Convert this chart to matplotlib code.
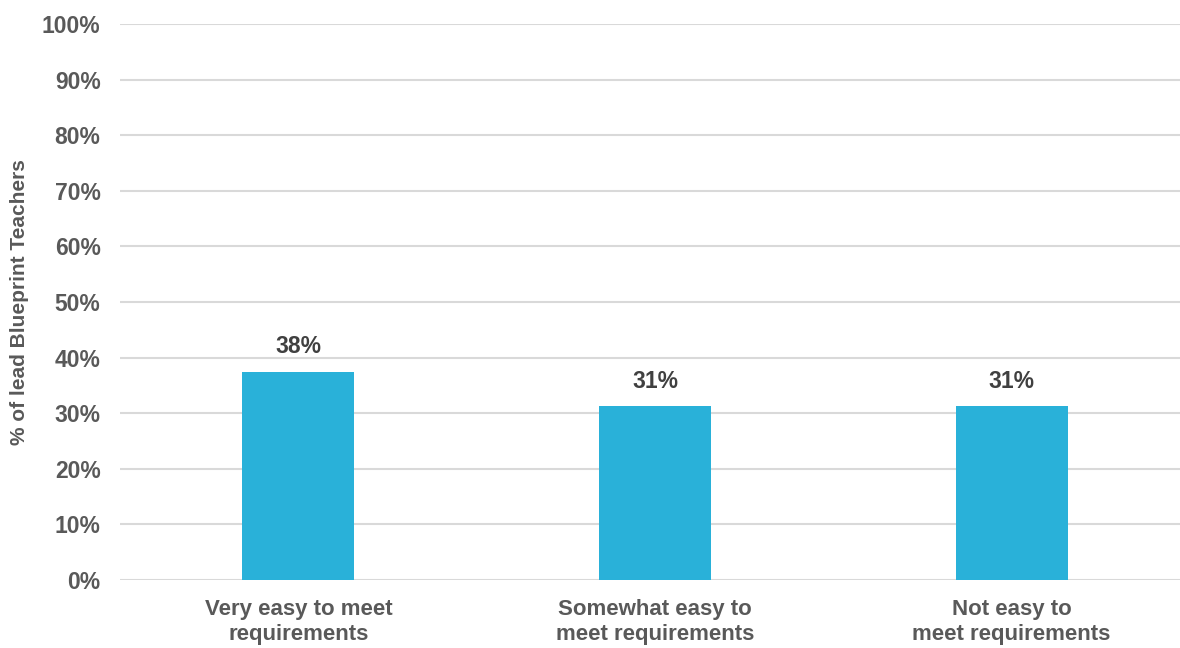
import matplotlib.pyplot as plt
from matplotlib.ticker import PercentFormatter

categories = ['Very easy to meet\nrequirements', 'Somewhat easy to\nmeet requirements', 'Not easy to\nmeet requirements']
values = [37.5, 31.25, 31.25]
labels = ['38%', '31%', '31%']

plt.rcParams['font.family'] = ['Liberation Sans', 'DejaVu Sans']
plt.rcParams['font.weight'] = 'bold'

fig = plt.figure(figsize=(11.8, 6.48), dpi=100)
ax = fig.add_axes([120 / 1180, 68 / 648, 1070 / 1180, 556 / 648])

x = range(len(categories))
ax.bar(x, values, width=0.314, color='#29B1D9', zorder=3)
for xi, v, lab in zip(x, values, labels):
    ax.text(xi, v + 2.4, lab, ha='center', va='bottom', fontsize=16.5,
            fontweight='bold', color='#404040')

ax.set_xlim(-0.5, 2.5)
ax.set_ylim(0, 100)
ax.set_yticks(range(0, 101, 10))
ax.yaxis.set_major_formatter(PercentFormatter(decimals=0))
ax.set_xticks(list(x))
ax.set_xticklabels(categories, fontsize=16, fontweight='bold', color='#595959',
                   linespacing=1.25)
ax.tick_params(axis='y', labelsize=16.5, labelcolor='#595959', length=0, pad=14)
ax.tick_params(axis='x', length=0, pad=14)
for lab in ax.get_yticklabels():
    lab.set_fontweight('bold')

ax.grid(axis='y', color='#d9d9d9', linewidth=1.5, zorder=0)
for s in ax.spines.values():
    s.set_visible(False)

ax.set_ylabel('% of lead Blueprint Teachers', fontsize=15, fontweight='bold',
              color='#595959')
ax.yaxis.set_label_coords(-0.085, 0.5)

fig.savefig('out.png', dpi=100)
